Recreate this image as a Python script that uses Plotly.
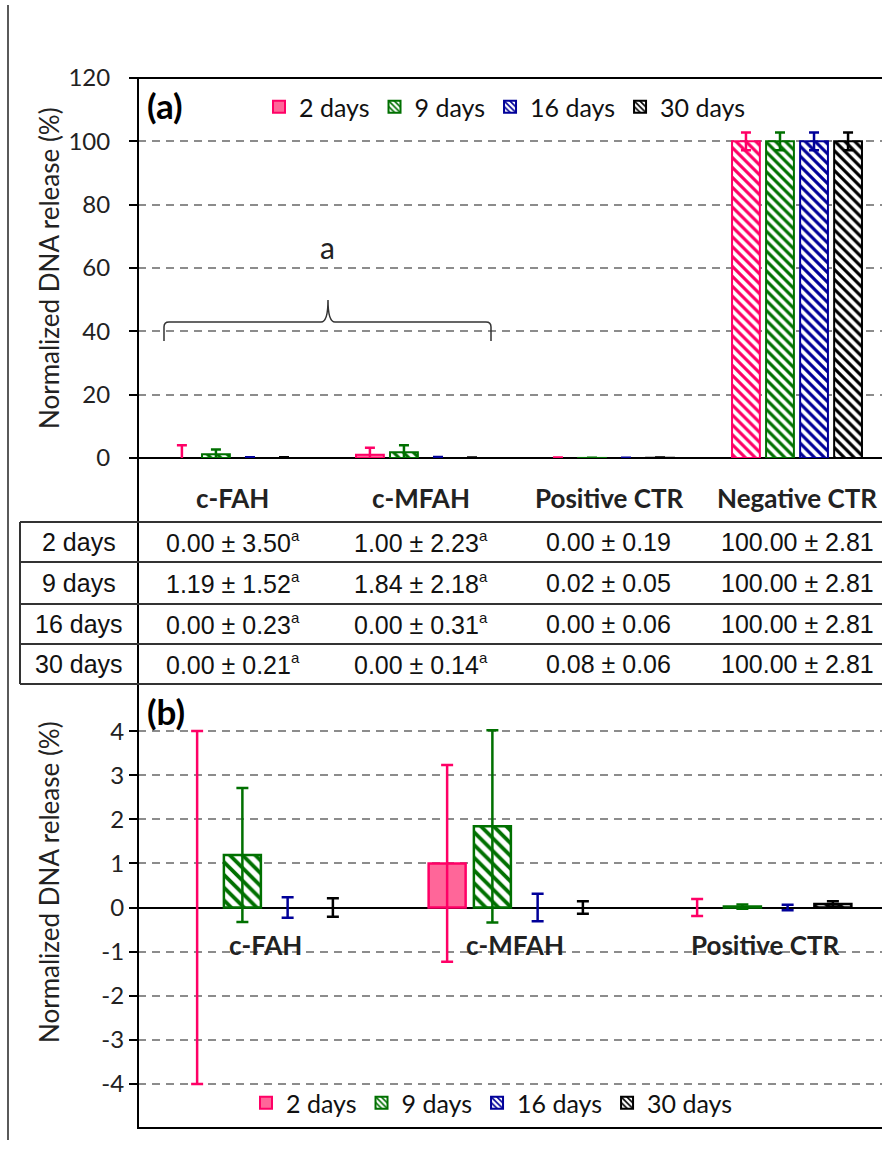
import plotly.graph_objects as go

W, H = 882, 1151

categories = ["c-FAH", "c-MFAH", "Positive CTR", "Negative CTR"]
series_names = ["2 days", "9 days", "16 days", "30 days"]

mean_2d = [0.00, 1.00, 0.00, 100.00]
mean_9d = [1.19, 1.84, 0.02, 100.00]
mean_16d = [0.00, 0.00, 0.00, 100.00]
mean_30d = [0.00, 0.00, 0.08, 100.00]

sd_2d = [3.50, 2.23, 0.19, 2.81]
sd_9d = [1.52, 2.18, 0.05, 2.81]
sd_16d = [0.23, 0.31, 0.06, 2.81]
sd_30d = [0.21, 0.14, 0.06, 2.81]

# error bars as drawn in the chart (2-day c-FAH bar is drawn at +/-4)
err_2d = [4.00, 2.23, 0.19, 2.81]
err_9d = [1.52, 2.18, 0.05, 2.81]
err_16d = [0.23, 0.31, 0.06, 2.81]
err_30d = [0.21, 0.14, 0.06, 2.81]

sig_letter = ["a", "a", "", ""]

yticks_a = [0, 20, 40, 60, 80, 100, 120]
yticks_b = [-4, -3, -2, -1, 0, 1, 2, 3, 4]

means = [mean_2d, mean_9d, mean_16d, mean_30d]
sds = [sd_2d, sd_9d, sd_16d, sd_30d]
errs = [err_2d, err_9d, err_16d, err_30d]

line_colors = ["#FF0066", "#007000", "#000099", "#000000"]
fill_2d = "#FF6699"


def pxx(p):
    return p / W


def pxy(p):
    return 1 - p / H


fig = go.Figure()

OFF = 0.181
BW = 0.148


def legend_marker(i, size):
    if i == 0:
        return dict(color=fill_2d, line=dict(color=line_colors[i], width=2))
    return dict(color=line_colors[i], line=dict(color=line_colors[i], width=2),
                pattern=dict(shape="\\", fgcolor=line_colors[i], bgcolor="white",
                             size=size, solidity=0.4, fillmode="replace"))


# ---- panel (a)
for i, name in enumerate(series_names):
    xs = [c + (i - 1.5) * OFF for c in range(len(categories))]
    lw = [0 if v == 0 else 2 for v in means[i]]
    if i == 0:
        shapes = ["", "", "", "\\"]
        mcolor = fill_2d
    else:
        shapes = "\\"
        mcolor = line_colors[i]
    fig.add_trace(go.Bar(
        x=xs, y=means[i], width=BW, name=name, showlegend=False,
        xaxis="x", yaxis="y", legendgroup="a" + name,
        marker=dict(color=mcolor, line=dict(color=line_colors[i], width=lw),
                    pattern=dict(shape=shapes, fgcolor=line_colors[i], bgcolor="white",
                                 size=7, solidity=0.45, fillmode="replace")),
        error_y=dict(type="data", array=errs[i], color=line_colors[i], thickness=2.5, width=5),
    ))
    fig.add_trace(go.Bar(
        x=[None], y=[None], name=name, showlegend=True, legend="legend",
        legendgroup="a" + name, xaxis="x", yaxis="y",
        marker=legend_marker(i, 5),
    ))

# ---- panel (b)
nb = 3
for i, name in enumerate(series_names):
    xs = [c + (i - 1.5) * OFF for c in range(nb)]
    lw = [0 if v == 0 else 2.5 for v in means[i][:nb]]
    if i == 0:
        pat = dict(shape="")
        mcolor = fill_2d
    else:
        pat = dict(shape="\\", fgcolor=line_colors[i], bgcolor="white", size=9,
                   solidity=0.42, fillmode="replace")
        mcolor = line_colors[i]
    fig.add_trace(go.Bar(
        x=xs, y=means[i][:nb], width=BW, name=name, showlegend=False,
        xaxis="x2", yaxis="y2", legendgroup="b" + name,
        marker=dict(color=mcolor, line=dict(color=line_colors[i], width=lw), pattern=pat),
        error_y=dict(type="data", array=errs[i][:nb], color=line_colors[i], thickness=2.5, width=6),
    ))
    fig.add_trace(go.Bar(
        x=[None], y=[None], name=name, showlegend=True, legend="legend2",
        legendgroup="b" + name, xaxis="x2", yaxis="y2",
        marker=legend_marker(i, 5),
    ))

font_cal = "Lato, Open Sans, sans-serif"
font_arial = "Liberation Sans, Arial, sans-serif"
grid_kw = dict(showgrid=True, gridcolor="#8C8C8C", gridwidth=2, griddash="8px,6px")

fig.update_layout(
    width=W, height=H,
    margin=dict(l=0, r=0, t=0, b=0, autoexpand=False),
    paper_bgcolor="white", plot_bgcolor="white",
    barmode="overlay",
    font=dict(family=font_cal, color="#222222"),
    xaxis=dict(domain=[pxx(138), 1], range=[-0.505, 3.452], anchor="y", automargin=False,
               showgrid=False, zeroline=False, showticklabels=False, showline=False),
    yaxis=dict(domain=[pxy(458), pxy(78)], range=[0, 120], anchor="x", automargin=False,
               tickvals=yticks_a, ticks="outside", ticklen=8, tickwidth=2, tickcolor="black",
               tickfont=dict(size=24, family=font_cal, color="#222222"),
               zeroline=True, zerolinecolor="black", zerolinewidth=2, showline=False,
               ticklabelstandoff=14, **grid_kw),
    xaxis2=dict(domain=[pxx(138), 1], range=[-0.508, 2.468], anchor="y2", automargin=False,
                showgrid=False, zeroline=False, showticklabels=False, showline=False),
    yaxis2=dict(domain=[pxy(1128), pxy(687)], range=[-5, 5], anchor="x2", automargin=False,
                tickvals=yticks_b, ticktext=[str(v) for v in yticks_b],
                ticks="outside", ticklen=8, tickwidth=2, tickcolor="black",
                tickfont=dict(size=24, family=font_cal, color="#222222"),
                zeroline=True, zerolinecolor="black", zerolinewidth=2, showline=False,
                ticklabelstandoff=0, **grid_kw),
    legend=dict(orientation="h", x=pxx(505), xanchor="center", y=pxy(107), yanchor="middle",
                font=dict(size=25, family=font_cal, color="#111111"),
                bgcolor="rgba(0,0,0,0)", itemwidth=30, traceorder="normal"),
    legend2=dict(orientation="h", x=pxx(492), xanchor="center", y=pxy(1103), yanchor="middle",
                 font=dict(size=25, family=font_cal, color="#111111"),
                 bgcolor="rgba(0,0,0,0)", itemwidth=30, traceorder="normal"),
)

shapes = []
LC = "black"
# outer left border
shapes.append(dict(type="line", xref="paper", yref="paper", x0=pxx(8), x1=pxx(8),
                   y0=pxy(5), y1=pxy(1140), line=dict(color=LC, width=1.3)))
# continuous vertical axis line
shapes.append(dict(type="line", xref="paper", yref="paper", x0=pxx(138), x1=pxx(138),
                   y0=pxy(78), y1=pxy(1129), line=dict(color=LC, width=2)))
# top border of panel (a)
shapes.append(dict(type="line", xref="paper", yref="paper", x0=pxx(137), x1=1,
                   y0=pxy(78), y1=pxy(78), line=dict(color=LC, width=2)))
# bottom border of panel (b)
shapes.append(dict(type="line", xref="paper", yref="paper", x0=pxx(137), x1=1,
                   y0=pxy(1128), y1=pxy(1128), line=dict(color=LC, width=2)))
# table lines
for yy in [522, 562, 604, 644, 684]:
    shapes.append(dict(type="line", xref="paper", yref="paper", x0=pxx(20), x1=1,
                       y0=pxy(yy), y1=pxy(yy), line=dict(color="#333333", width=2)))
shapes.append(dict(type="line", xref="paper", yref="paper", x0=pxx(20), x1=pxx(20),
                   y0=pxy(522), y1=pxy(684), line=dict(color="#333333", width=2)))

# brace grouping c-FAH and c-MFAH
pts = [("M", 164, 341), ("L", 164, 327), ("Q", 164, 322, 169, 322), ("L", 321, 322),
       ("Q", 328, 322, 328, 300), ("Q", 328, 322, 335, 322), ("L", 486, 322),
       ("Q", 491, 322, 491, 327), ("L", 491, 341)]
path = ""
for p in pts:
    cmd = p[0]
    coords = p[1:]
    s = []
    for k in range(0, len(coords), 2):
        s.append(f"{pxx(coords[k]):.5f},{pxy(coords[k + 1]):.5f}")
    path += cmd + " ".join(s) + " "
shapes.append(dict(type="path", xref="paper", yref="paper", path=path.strip(),
                   line=dict(color="#333333", width=1.5)))
fig.update_layout(shapes=shapes)

ann = []
ann.append(dict(text="<b>(a)</b>", xref="paper", yref="paper", x=pxx(145), y=pxy(105),
                xanchor="left", yanchor="middle", showarrow=False,
                font=dict(size=35, family=font_cal, color="black")))
ann.append(dict(text="<b>(b)</b>", xref="paper", yref="paper", x=pxx(145), y=pxy(711),
                xanchor="left", yanchor="middle", showarrow=False,
                font=dict(size=35, family=font_cal, color="black")))
ann.append(dict(text="a", xref="paper", yref="paper", x=pxx(327), y=pxy(247),
                xanchor="center", yanchor="middle", showarrow=False,
                font=dict(size=30, family=font_cal, color="#222222")))
for t, yc in [("Normalized DNA release (%)", 268), ("Normalized DNA release (%)", 882)]:
    ann.append(dict(text=t, xref="paper", yref="paper", x=pxx(49), y=pxy(yc),
                    xanchor="center", yanchor="middle", textangle=-90, showarrow=False,
                    font=dict(size=26, family=font_cal, color="#222222")))
# category labels
for c, cat in enumerate(categories):
    ann.append(dict(text=f"<b>{cat}</b>", xref="x", yref="paper", x=c, y=pxy(498),
                    xanchor="center", yanchor="middle", showarrow=False,
                    font=dict(size=26, family=font_cal, color="#222222")))
for c, cat in enumerate(categories[:nb]):
    ann.append(dict(text=f"<b>{cat}</b>", xref="x2", yref="paper", x=c, y=pxy(945),
                    xanchor="center", yanchor="middle", showarrow=False,
                    font=dict(size=26, family=font_cal, color="#222222")))
# table
row_y = [542, 583, 624, 664]
for r, name in enumerate(series_names):
    ann.append(dict(text=name, xref="paper", yref="paper", x=pxx(79), y=pxy(row_y[r]),
                    xanchor="center", yanchor="middle", showarrow=False,
                    font=dict(size=25, family=font_arial, color="#111111")))
    for c in range(len(categories)):
        txt = f"{means[r][c]:.2f} ± {sds[r][c]:.2f}"
        if sig_letter[c]:
            txt += f"<sup><span style='font-size:15px'>{sig_letter[c]}</span></sup>"
        ann.append(dict(text=txt, xref="x", yref="paper", x=c, y=pxy(row_y[r]),
                        xanchor="center", yanchor="middle", showarrow=False,
                        font=dict(size=25, family=font_arial, color="#111111")))
fig.update_layout(annotations=ann)

fig.write_html("out.html")
